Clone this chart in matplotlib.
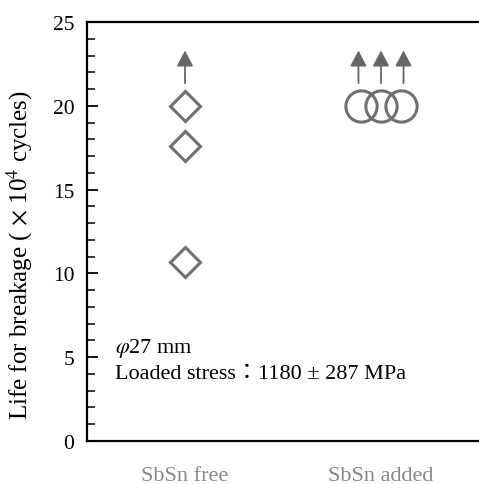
import numpy as np
import matplotlib
matplotlib.use("Agg")
import matplotlib.pyplot as plt

plt.rcParams["font.family"] = ["Liberation Serif", "Noto Sans CJK JP"]
plt.rcParams["mathtext.fontset"] = "stix"

# data (x positions are category slots, xlim 0..4)
categories = ["SbSn free", "SbSn added"]
cat_pos = [1, 3]
free_x = [1, 1, 1]
free_life = [20.0, 17.6, 10.7]
added_x = [2.8, 3.0, 3.2]
added_life = [20.0, 20.0, 20.0]
# run-outs (did not break): arrow base / tip
free_arrow_x = [1.0]
added_arrow_x = [2.77, 3.0, 3.23]
arrow_base = 21.35
arrow_tip = 23.3

GRAY = "#707070"
ARROW = "#666666"
FS = 16

fig = plt.figure(figsize=(4.79, 4.85), dpi=100)
ax = fig.add_axes([0.1816, 0.0887, 0.8184, 0.8639])

ax.plot(free_x, free_life, ls="none", marker="D", ms=15.5, mfc="none",
        mec=GRAY, mew=2.2, zorder=3)
ax.plot(added_x, added_life, ls="none", marker="o", ms=22.5, mfc="none",
        mec=GRAY, mew=2.2, zorder=3)

for x in free_arrow_x + added_arrow_x:
    ax.annotate("", xy=(x, arrow_tip), xytext=(x, arrow_base),
                arrowprops=dict(arrowstyle="-|>,head_length=0.95,head_width=0.5",
                                mutation_scale=10, color=ARROW, lw=1.3,
                                shrinkA=0, shrinkB=0))

ax.set_xlim(0, 4)
ax.set_ylim(0, 25)
ax.set_xticks(cat_pos)
ax.set_xticklabels(categories, color="#888888", fontsize=FS)
ax.tick_params(axis="x", length=0, pad=18)
ax.set_yticks(np.arange(0, 26, 5))
ax.set_yticks(np.arange(0, 26, 1), minor=True)
ax.tick_params(axis="y", which="major", direction="in", length=8, width=1.3,
               labelsize=15.5, pad=9)
ax.tick_params(axis="y", which="minor", direction="in", length=6, width=1.1)

for s in ["left", "top", "bottom"]:
    ax.spines[s].set_linewidth(1.6)
ax.spines["right"].set_visible(False)

ax.set_ylabel(r"Life for breakage ( $\times$ 10$^4$ cycles)", fontsize=18)
ax.yaxis.set_label_coords(-0.132, 0.446)

ax.text(0.286, 5.55, r"$\varphi$27 mm", fontsize=FS, va="center")
ax.text(0.286, 4.05, "Loaded stress\uff1a1180 \u00b1 287 MPa", fontsize=FS, va="center")

fig.savefig("out.png", dpi=100)
